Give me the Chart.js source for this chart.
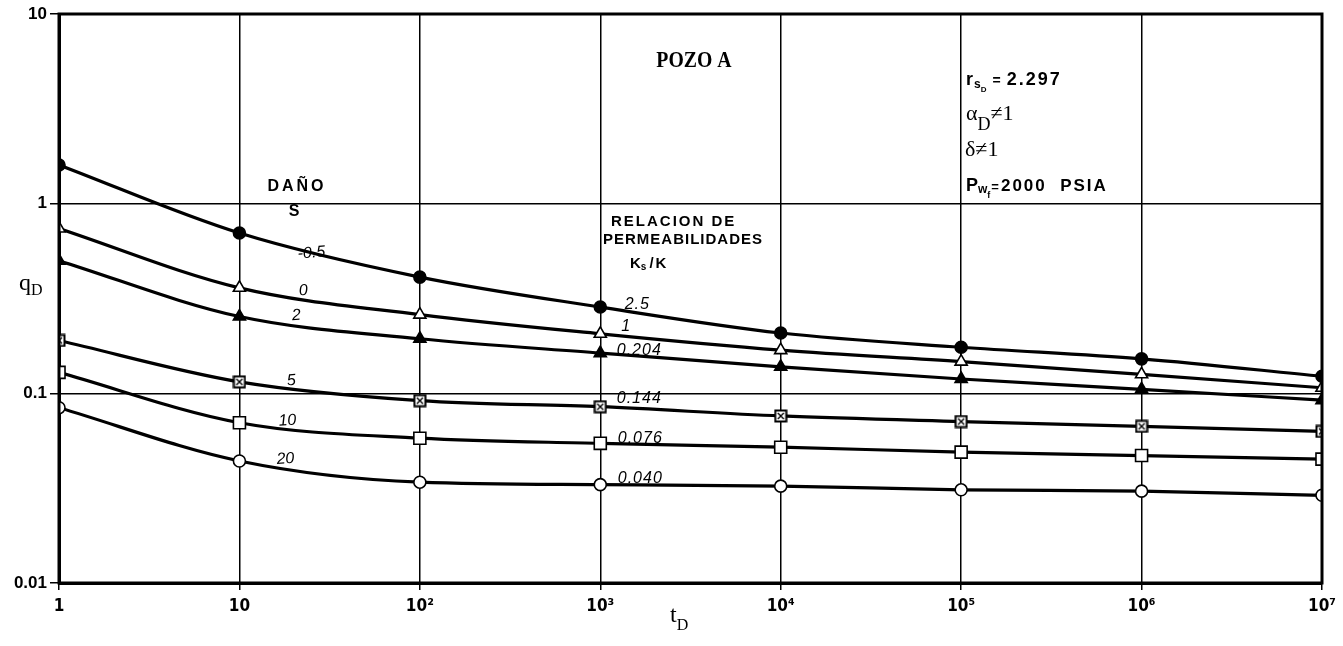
<!DOCTYPE html>
<html><head><meta charset="utf-8">
<script src="https://cdn.jsdelivr.net/npm/chart.js@4.4.1/dist/chart.umd.min.js"></script>
<style>html,body{margin:0;padding:0;background:#fff;overflow:hidden}canvas{display:block}</style>
</head><body>
<canvas id="c" width="1343" height="646"></canvas>
<script>
// ---- data ----
const tD = [1, 10, 1e2, 1e3, 1e4, 1e5, 1e6, 1e7];
const damageS = ['-0.5', '0', '2', '5', '10', '20'];
const permRatio = ['2.5', '1', '0.204', '0.144', '0.076', '0.040'];
const qD_Sm05 = [1.60, 0.70, 0.41, 0.285, 0.208, 0.175, 0.152, 0.123];
const qD_S0   = [0.74, 0.36, 0.26, 0.206, 0.169, 0.147, 0.126, 0.107];
const qD_S2   = [0.50, 0.254, 0.194, 0.163, 0.138, 0.119, 0.105, 0.092];
const qD_S5   = [0.19, 0.115, 0.0915, 0.085, 0.076, 0.071, 0.067, 0.063];
const qD_S10  = [0.129, 0.070, 0.058, 0.0545, 0.052, 0.049, 0.047, 0.045];
const qD_S20  = [0.084, 0.044, 0.034, 0.033, 0.0324, 0.031, 0.0305, 0.029];
const xTickLabels = ['1', '10', '10²', '10³', '10⁴', '10⁵', '10⁶', '10⁷'];
const yTickLabels = ['0.01', '0.1', '1', '10'];

function boxX() {
  const s = 14, c = document.createElement('canvas');
  c.width = s; c.height = s;
  const g = c.getContext('2d');
  g.fillStyle = '#fff'; g.fillRect(1, 1, s - 2, s - 2);
  g.strokeStyle = '#000'; g.lineWidth = 2; g.strokeRect(1.5, 1.5, s - 3, s - 3);
  g.lineWidth = 1.4; g.beginPath();
  g.moveTo(4, 4); g.lineTo(s - 4, s - 4); g.moveTo(s - 4, 4); g.lineTo(4, s - 4); g.stroke();
  return c;
}

const seriesVals = [qD_Sm05, qD_S0, qD_S2, qD_S5, qD_S10, qD_S20];
const markerStyles = [
  {pointStyle: 'circle', pointBackgroundColor: '#000', pointRadius: 6},
  {pointStyle: 'triangle', pointBackgroundColor: '#fff', pointRadius: 7},
  {pointStyle: 'triangle', pointBackgroundColor: '#000', pointRadius: 7},
  {pointStyle: boxX(), pointBackgroundColor: '#fff', pointRadius: 7},
  {pointStyle: 'rect', pointBackgroundColor: '#fff', pointRadius: 8.5},
  {pointStyle: 'circle', pointBackgroundColor: '#fff', pointRadius: 6}
];

const datasets = seriesVals.map((vals, i) => Object.assign({
  label: 'S = ' + damageS[i],
  data: tD.map((t, j) => ({x: t, y: vals[j]})),
  borderColor: '#000', borderWidth: 3.2,
  pointBorderColor: '#000', pointBorderWidth: 1.6,
  cubicInterpolationMode: 'monotone', fill: false
}, markerStyles[i]));

const SANS = '"Liberation Sans", Arial, sans-serif';
const SERIF = '"Liberation Serif", "DejaVu Serif", serif';

function rich(ctx, x, y, parts) {
  let cx = x;
  parts.forEach(p => {
    ctx.font = p.f;
    ctx.letterSpacing = p.ls || '0px';
    ctx.fillText(p.t, cx, y + (p.dy || 0));
    cx += ctx.measureText(p.t).width + (p.gap || 0);
  });
  ctx.letterSpacing = '0px';
}

const textPlugin = {
  id: 'texts',
  afterDatasetsDraw(chart) {
    const {ctx, chartArea: a} = chart;
    ctx.save();
    ctx.strokeStyle = '#000'; ctx.lineWidth = 3;
    ctx.strokeRect(a.left, a.top, a.right - a.left, a.bottom - a.top);
    ctx.restore();
  },
  afterDraw(chart) {
    const {ctx} = chart;
    const xs = chart.scales.x, ys = chart.scales.y;
    ctx.save();
    ctx.fillStyle = '#000';
    ctx.textBaseline = 'middle';
    ctx.textAlign = 'center';

    // damage labels anchored to the t=10 markers
    const dOff = [[72, 20], [64, 3], [57, -1], [52, -1], [48, -2], [46, -2]];
    ctx.font = 'italic 16px ' + SANS;
    damageS.forEach((s, i) => {
      const px = xs.getPixelForValue(tD[1]) + dOff[i][0];
      const py = ys.getPixelForValue(seriesVals[i][1]) + dOff[i][1];
      ctx.save(); ctx.translate(px, py); ctx.rotate(-0.08);
      ctx.fillText(s, 0, 0); ctx.restore();
    });
    // permeability ratio labels anchored to the t=1e3 markers
    const pOff = [[37, -3], [26, -7], [39, -3], [39, -8], [40, -5], [40, -6]];
    ctx.font = 'italic 16px ' + SANS;
    ctx.letterSpacing = '1px';
    permRatio.forEach((s, i) => {
      const px = xs.getPixelForValue(tD[3]) + pOff[i][0];
      const py = ys.getPixelForValue(seriesVals[i][3]) + pOff[i][1];
      ctx.fillText(s, px, py);
    });
    ctx.letterSpacing = '0px';

    // headings
    ctx.font = 'bold 16px ' + SANS;
    ctx.letterSpacing = '3px';
    ctx.fillText('DAÑO', 297, 187);
    ctx.letterSpacing = '0px';
    ctx.fillText('S', 294, 212);
    ctx.font = 'bold 15px ' + SANS;
    ctx.letterSpacing = '2px';
    ctx.textAlign = 'left';
    ctx.fillText('RELACION DE', 611, 222);
    ctx.letterSpacing = '1px';
    ctx.fillText('PERMEABILIDADES', 603, 240);
    ctx.letterSpacing = '0px';
    rich(ctx, 630, 264, [{t: 'K', f: 'bold 15px ' + SANS}, {t: 's', f: 'bold 10px ' + SANS, dy: 3, gap: 3}, {t: '/K', f: 'bold 15px ' + SANS, ls: '2px'}]);

    // POZO A
    ctx.save();
    ctx.translate(694, 61); ctx.scale(0.86, 1);
    ctx.textAlign = 'center';
    ctx.font = 'bold 23px ' + SERIF;
    ctx.fillText('POZO A', 0, 0);
    ctx.restore();

    // parameter box
    ctx.textAlign = 'left';
    ctx.textBaseline = 'alphabetic';
    rich(ctx, 966, 85, [
      {t: 'r', f: 'bold 18px ' + SANS, gap: 1},
      {t: 's', f: 'bold 12px ' + SANS, dy: 3},
      {t: 'D', f: 'bold 8px ' + SANS, dy: 7, gap: 6},
      {t: '=', f: 'bold 14px ' + SANS, gap: 6},
      {t: '2.297', f: 'bold 18px ' + SANS, ls: '2px'}
    ]);
    rich(ctx, 966, 120, [
      {t: 'α', f: '22px ' + SERIF},
      {t: 'D', f: '18px ' + SERIF, dy: 10},
      {t: '≠1', f: '22px ' + SERIF}
    ]);
    rich(ctx, 965, 156, [{t: 'δ≠1', f: '22px ' + SERIF}]);
    rich(ctx, 966, 191, [
      {t: 'P', f: 'bold 18px ' + SANS},
      {t: 'w', f: 'bold 12px ' + SANS, dy: 2},
      {t: 'f', f: 'bold 9px ' + SANS, dy: 7, gap: 1},
      {t: '=', f: 'bold 13px ' + SANS, gap: 2},
      {t: '2000  PSIA', f: 'bold 17px ' + SANS, ls: '2px'}
    ]);

    // axis titles
    rich(ctx, 19, 290, [{t: 'q', f: '24px ' + SERIF}, {t: 'D', f: '16px ' + SERIF, dy: 5}]);
    rich(ctx, 670, 622, [{t: 't', f: '24px ' + SERIF}, {t: 'D', f: '16px ' + SERIF, dy: 8}]);
    ctx.restore();
  }
};

const decadeFilter = scale => {
  scale.ticks = scale.ticks.filter(t => Math.abs(Math.log10(t.value) - Math.round(Math.log10(t.value))) < 1e-9);
};

new Chart(document.getElementById('c'), {
  type: 'line',
  data: {datasets},
  plugins: [textPlugin],
  options: {
    responsive: false, animation: false, devicePixelRatio: 1,
    layout: {padding: {top: 14, right: 21, left: 0, bottom: 0}},
    plugins: {legend: {display: false}, tooltip: {enabled: false}, title: {display: false}},
    scales: {
      x: {
        type: 'logarithmic', min: 1, max: 1e7, position: 'bottom',
        afterBuildTicks: decadeFilter,
        afterFit: s => { s.height = 63; },
        grid: {color: '#000', lineWidth: 1.5, tickLength: 7, tickColor: '#000'},
        border: {display: true, color: '#000', width: 3},
        ticks: {
          color: '#000', font: {family: '"DejaVu Sans Condensed", "DejaVu Sans", sans-serif', size: 17, weight: 'bold'}, padding: 6,
          maxRotation: 0, autoSkip: false,
          callback: v => xTickLabels[Math.round(Math.log10(v))]
        }
      },
      y: {
        type: 'logarithmic', min: 0.01, max: 10, position: 'left',
        afterBuildTicks: decadeFilter,
        afterFit: s => { s.width = 59; },
        grid: {color: '#000', lineWidth: 1.5, tickLength: 9, tickColor: '#000'},
        border: {display: true, color: '#000', width: 3},
        ticks: {
          color: '#000', font: {family: SANS, size: 17, weight: 'bold'}, padding: 3,
          autoSkip: false,
          callback: v => yTickLabels[Math.round(Math.log10(v)) + 2]
        }
      }
    }
  }
});
</script>
</body></html>
